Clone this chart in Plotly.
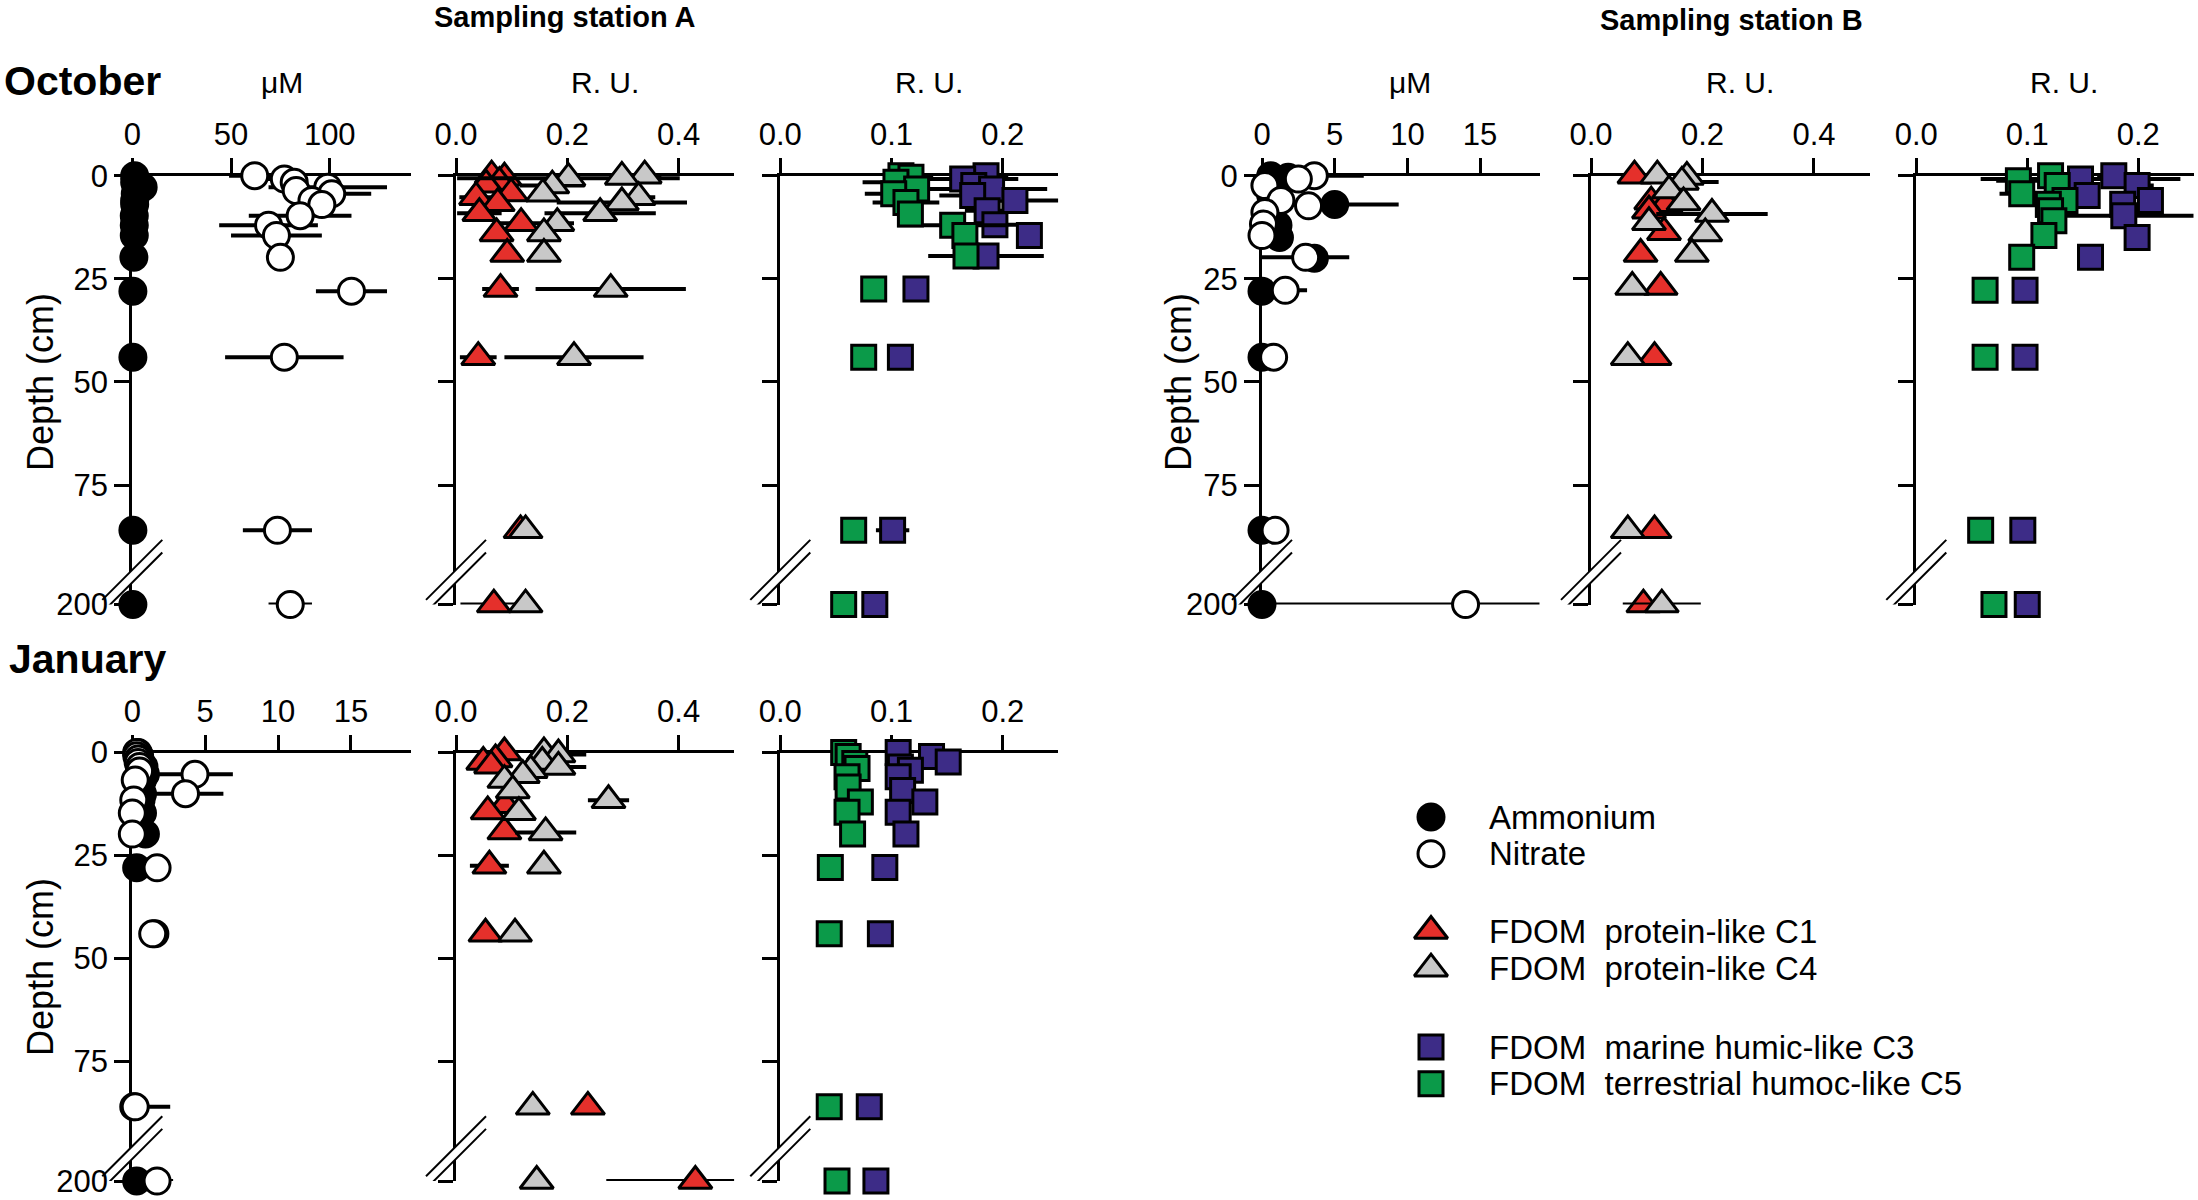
import plotly.graph_objects as go

# ======================= DATA =======================
# ---- Station A, October ----
A_OCT_NH4_DEPTH = [0, 0.8, 1.6, 2.8, 3.6, 4.4, 6, 7, 9.7, 12, 14.5, 19.8, 28, 44, 86, 200]
A_OCT_NH4 = [1.2, 1.5, 1.2, 5.5, 2.0, 1.5, 1.2, 1.2, 1.0, 1.0, 1.0, 0.8, 0.3, 0.3, 0.3, 0.3]
A_OCT_NH4_ERR = [0.5, 0.5, 0.5, 1.0, 0.5, 0.5, 0.5, 0.5, 0.5, 0.5, 0.5, 0.5, 0.3, 0.3, 0.3, 0.3]
A_OCT_NO3_DEPTH = [0, 0.8, 1.6, 2.8, 3.6, 4.4, 6, 7, 9.7, 12, 14.5, 19.8, 28, 44, 86, 200]
A_OCT_NO3 = [62, 77, 82, 99, 83, 101, 91, 96, 85, 69, 73, 75, 111, 77, 73.5, 80]
A_OCT_NO3_ERR = [13, 12, 6, 30, 6, 20, 6, 6, 26, 25, 23, 4, 18, 30, 17.5, 11]

A_OCT_C1_DEPTH = [0, 0.5, 1.6, 2.2, 4.3, 5.2, 6.7, 9.1, 11.5, 14, 19, 27.5, 44, 86, 200]
A_OCT_C1 = [0.064, 0.087, 0.078, 0.054, 0.099, 0.036, 0.075, 0.042, 0.117, 0.073, 0.092, 0.080, 0.040, 0.116, 0.068]
A_OCT_C1_ERR = [0.01, 0.01, 0.02, 0.02, 0.02, 0.03, 0.02, 0.04, 0.045, 0.02, 0.015, 0.033, 0.033, 0.01, 0.06]
A_OCT_C4_DEPTH = [0, 0.3, 0.6, 2.4, 4.4, 5.2, 6.5, 9.1, 11.5, 14, 19, 27.5, 44, 86, 200]
A_OCT_C4 = [0.339, 0.298, 0.202, 0.173, 0.156, 0.328, 0.298, 0.259, 0.182, 0.158, 0.158, 0.278, 0.212, 0.125, 0.125]
A_OCT_C4_ERR = [0.03, 0.02, 0.2, 0.058, 0.02, 0.03, 0.117, 0.1, 0.03, 0.02, 0.02, 0.135, 0.125, 0.01, 0.01]

A_OCT_C3_DEPTH = [0, 0.8, 2.4, 3.2, 4.8, 6, 8.5, 11.9, 14.5, 19.5, 27.5, 44, 86, 200]
A_OCT_C3 = [0.185, 0.164, 0.174, 0.190, 0.173, 0.211, 0.186, 0.193, 0.224, 0.185, 0.122, 0.108, 0.101, 0.085]
A_OCT_C3_ERR = [0.02, 0.05, 0.02, 0.05, 0.03, 0.045, 0.02, 0.02, 0.01, 0.052, 0.005, 0.005, 0.015, 0.005]
A_OCT_C5_DEPTH = [0, 0.4, 1.6, 3.2, 4.4, 6.5, 9.3, 12, 14.5, 19.5, 27.5, 44, 86, 200]
A_OCT_C5 = [0.1085, 0.1175, 0.104, 0.1226, 0.102, 0.113, 0.117, 0.155, 0.166, 0.167, 0.084, 0.075, 0.066, 0.057]
A_OCT_C5_ERR = [0.01, 0.02, 0.03, 0.02, 0.026, 0.03, 0.01, 0.05, 0.01, 0.01, 0.005, 0.005, 0.005, 0.005]

# ---- Station B, October ----
B_OCT_NH4_DEPTH = [0, 0.4, 2.4, 4.8, 7, 9, 12, 15, 20, 28, 44, 86, 200]
B_OCT_NH4 = [0.6, 1.8, 0.3, 0.6, 5.0, 0.5, 1.1, 1.2, 3.6, 0.0, 0.0, 0.0, 0.0]
B_OCT_NH4_ERR = [0.2, 0.3, 0.1, 0.1, 4.4, 0.1, 0.2, 0.2, 0.3, 0.1, 0.1, 0.1, 0.1]
B_OCT_NO3_DEPTH = [0, 0.8, 2.4, 6, 7.3, 8.9, 11.7, 14.5, 19.8, 27.8, 44, 86, 200]
B_OCT_NO3 = [3.6, 2.5, 0.2, 1.3, 3.2, 0.2, 0.1, 0.0, 3.0, 1.6, 0.8, 0.9, 14.0]
B_OCT_NO3_ERR = [3.4, 0.4, 0.3, 0.3, 0.4, 0.2, 0.2, 0.2, 3.0, 1.5, 0.2, 0.2, 14.0]

B_OCT_C1_DEPTH = [0, 6.3, 6.9, 8.5, 13.7, 19, 27, 44, 86, 200]
B_OCT_C1 = [0.078, 0.108, 0.134, 0.104, 0.131, 0.089, 0.125, 0.114, 0.114, 0.094]
B_OCT_C1_ERR = [0.02, 0.01, 0.01, 0.02, 0.01, 0.01, 0.01, 0.01, 0.01, 0.01]
B_OCT_C4_DEPTH = [0, 0.3, 1.5, 3.6, 6.5, 9.3, 11.3, 14, 19, 27, 44, 86, 200]
B_OCT_C4 = [0.119, 0.172, 0.163, 0.140, 0.166, 0.217, 0.104, 0.205, 0.181, 0.074, 0.066, 0.066, 0.127]
B_OCT_C4_ERR = [0.02, 0.01, 0.066, 0.02, 0.02, 0.1, 0.02, 0.01, 0.01, 0.01, 0.01, 0.01, 0.07]

B_OCT_C3_DEPTH = [0, 0.8, 2.4, 4.8, 6, 6.9, 9.7, 15, 19.8, 27.8, 44, 86, 200]
B_OCT_C3 = [0.178, 0.148, 0.199, 0.154, 0.211, 0.186, 0.187, 0.199, 0.157, 0.098, 0.098, 0.096, 0.100]
B_OCT_C3_ERR = [0.015, 0.09, 0.015, 0.01, 0.01, 0.01, 0.08, 0.01, 0.01, 0.005, 0.005, 0.005, 0.005]
B_OCT_C5_DEPTH = [0, 1.2, 2.4, 4.4, 6, 6.9, 8.5, 10.9, 14.5, 19.8, 27.8, 44, 86, 200]
B_OCT_C5 = [0.121, 0.092, 0.127, 0.095, 0.134, 0.119, 0.121, 0.124, 0.115, 0.095, 0.062, 0.062, 0.058, 0.070]
B_OCT_C5_ERR = [0.01, 0.02, 0.01, 0.02, 0.01, 0.01, 0.01, 0.01, 0.01, 0.01, 0.005, 0.005, 0.005, 0.005]

# ---- Station A, January ----
A_JAN_NH4_DEPTH = [0, 0.8, 1.6, 2.4, 3.4, 4.5, 5.3, 6.7, 10, 11.5, 14.7, 19.8, 28, 44, 86, 200]
A_JAN_NH4 = [0.4, 0.5, 0.5, 0.6, 0.8, 0.8, 0.9, 0.7, 0.7, 0.6, 0.7, 0.9, 0.3, 1.55, 0.1, 0.3]
A_JAN_NH4_ERR = [0.1, 0.1, 0.1, 0.1, 0.1, 0.1, 0.1, 0.1, 0.1, 0.1, 0.1, 0.1, 0.1, 0.1, 0.1, 0.1]
A_JAN_NO3_DEPTH = [0, 0.8, 1.6, 2.4, 3.4, 4.5, 5.3, 6.7, 10, 11.5, 14.7, 19.8, 28, 44, 86, 200]
A_JAN_NO3 = [0.3, 0.3, 0.4, 0.4, 0.5, 0.5, 4.3, 0.2, 3.65, 0.1, 0.0, 0.0, 1.7, 1.4, 0.2, 1.7]
A_JAN_NO3_ERR = [0.1, 0.1, 0.1, 0.1, 0.1, 0.1, 2.6, 0.1, 2.6, 0.1, 0.1, 0.1, 0.1, 0.1, 2.4, 1.1]

A_JAN_C1_DEPTH = [0, 1.7, 2.3, 3.2, 12.8, 14.3, 19.2, 27.5, 44, 86, 200]
A_JAN_C1 = [0.087, 0.071, 0.049, 0.063, 0.088, 0.057, 0.087, 0.060, 0.053, 0.237, 0.43]
A_JAN_C1_ERR = [0.01, 0.01, 0.01, 0.01, 0.01, 0.01, 0.01, 0.035, 0.01, 0.01, 0.16]
A_JAN_C4_DEPTH = [0, 0.5, 2.3, 3.5, 4.3, 5.5, 6.7, 9.2, 11.6, 14.5, 19.4, 27.5, 44, 86, 200]
A_JAN_C4 = [0.158, 0.184, 0.155, 0.184, 0.134, 0.120, 0.087, 0.102, 0.274, 0.113, 0.161, 0.158, 0.106, 0.138, 0.145]
A_JAN_C4_ERR = [0.01, 0.05, 0.01, 0.05, 0.01, 0.01, 0.01, 0.01, 0.037, 0.01, 0.055, 0.02, 0.01, 0.01, 0.01]

A_JAN_C3_DEPTH = [0, 1, 2.3, 3.5, 4.3, 5.9, 9.2, 12, 14.5, 19.8, 27.9, 44, 86, 200]
A_JAN_C3 = [0.106, 0.136, 0.151, 0.108, 0.117, 0.106, 0.110, 0.130, 0.106, 0.113, 0.094, 0.090, 0.080, 0.086]
A_JAN_C3_ERR = [0.005, 0.005, 0.005, 0.005, 0.005, 0.005, 0.005, 0.005, 0.005, 0.005, 0.005, 0.005, 0.005, 0.005]
A_JAN_C5_DEPTH = [0, 1, 2.7, 3.9, 5.9, 8.4, 12, 14.5, 19.8, 27.9, 44, 86, 200]
A_JAN_C5 = [0.057, 0.061, 0.067, 0.069, 0.060, 0.061, 0.072, 0.060, 0.065, 0.045, 0.044, 0.044, 0.051]
A_JAN_C5_ERR = [0.005, 0.005, 0.005, 0.005, 0.005, 0.005, 0.005, 0.005, 0.005, 0.005, 0.005, 0.005, 0.005]

# ---- axis tick labels / texts ----
DEPTH_TICKS = [0, 25, 50, 75, 200]
NUT_A_OCT_TICKS = [0, 50, 100]
NUT_LOW_TICKS = [0, 5, 10, 15]
PROT_TICKS = [0.0, 0.2, 0.4]
HUM_TICKS = [0.0, 0.1, 0.2]
LEGEND_KEYS = ["NH4", "NO3", "C1", "C4", "C3", "C5"]
LEGEND_LABELS = ["Ammonium", "Nitrate", "FDOM  protein-like C1", "FDOM  protein-like C4",
                 "FDOM  marine humic-like C3", "FDOM  terrestrial humoc-like C5"]

# ======================= LAYOUT / STYLE =======================
W, H = 2198, 1200
FONT = "Liberation Sans, Arial, Helvetica, sans-serif"
BREAK_POS = 104.0   # plotted position of the 200 cm level on the broken depth axis
BREAK_MID = 97.1    # where the break marks cross the depth axis
ROW_PX = {1: (175.7, 604.6), 2: (752.5, 1181.0)}
COL_PX = {1: (132.3, 410.7), 2: (456.0, 734.3), 3: (780.3, 1058.3),
          4: (1262.0, 1539.7), 5: (1591.0, 1869.7), 6: (1916.3, 2193.7)}

STYLE = {
    "NH4": dict(symbol="circle", color="#000000", size=26),
    "NO3": dict(symbol="circle", color="#FFFFFF", size=26),
    "C1": dict(symbol="triangle-up", color="#E5302B", size=29),
    "C4": dict(symbol="triangle-up", color="#C8C8C8", size=29),
    "C3": dict(symbol="square", color="#3D2C87", size=24),
    "C5": dict(symbol="square", color="#0B9A49", size=24),
}


def ypos(depths):
    return [d if d <= 100 else BREAK_POS for d in depths]


PANELS = [
    (1, 1, 1, [0, 141], NUT_A_OCT_TICKS, "d", True,
     [("NH4", A_OCT_NH4_DEPTH, A_OCT_NH4, A_OCT_NH4_ERR), ("NO3", A_OCT_NO3_DEPTH, A_OCT_NO3, A_OCT_NO3_ERR)]),
    (2, 1, 2, [0, 0.5], PROT_TICKS, ".1f", False,
     [("C1", A_OCT_C1_DEPTH, A_OCT_C1, A_OCT_C1_ERR), ("C4", A_OCT_C4_DEPTH, A_OCT_C4, A_OCT_C4_ERR)]),
    (3, 1, 3, [0, 0.25], HUM_TICKS, ".1f", False,
     [("C3", A_OCT_C3_DEPTH, A_OCT_C3, A_OCT_C3_ERR), ("C5", A_OCT_C5_DEPTH, A_OCT_C5, A_OCT_C5_ERR)]),
    (4, 1, 4, [0, 19.1], NUT_LOW_TICKS, "d", True,
     [("NH4", B_OCT_NH4_DEPTH, B_OCT_NH4, B_OCT_NH4_ERR), ("NO3", B_OCT_NO3_DEPTH, B_OCT_NO3, B_OCT_NO3_ERR)]),
    (5, 1, 5, [0, 0.5], PROT_TICKS, ".1f", False,
     [("C1", B_OCT_C1_DEPTH, B_OCT_C1, B_OCT_C1_ERR), ("C4", B_OCT_C4_DEPTH, B_OCT_C4, B_OCT_C4_ERR)]),
    (6, 1, 6, [0, 0.25], HUM_TICKS, ".1f", False,
     [("C3", B_OCT_C3_DEPTH, B_OCT_C3, B_OCT_C3_ERR), ("C5", B_OCT_C5_DEPTH, B_OCT_C5, B_OCT_C5_ERR)]),
    (7, 2, 1, [0, 19.1], NUT_LOW_TICKS, "d", True,
     [("NH4", A_JAN_NH4_DEPTH, A_JAN_NH4, A_JAN_NH4_ERR), ("NO3", A_JAN_NO3_DEPTH, A_JAN_NO3, A_JAN_NO3_ERR)]),
    (8, 2, 2, [0, 0.5], PROT_TICKS, ".1f", False,
     [("C1", A_JAN_C1_DEPTH, A_JAN_C1, A_JAN_C1_ERR), ("C4", A_JAN_C4_DEPTH, A_JAN_C4, A_JAN_C4_ERR)]),
    (9, 2, 3, [0, 0.25], HUM_TICKS, ".1f", False,
     [("C3", A_JAN_C3_DEPTH, A_JAN_C3, A_JAN_C3_ERR), ("C5", A_JAN_C5_DEPTH, A_JAN_C5, A_JAN_C5_ERR)]),
]

fig = go.Figure()
layout = dict(width=W, height=H, autosize=False,
              margin=dict(l=0, r=0, t=0, b=0, pad=0, autoexpand=False),
              paper_bgcolor="white", plot_bgcolor="rgba(0,0,0,0)",
              font=dict(family=FONT, color="black", size=30), showlegend=False)
shapes = []
annotations = []

for n, row, col, xr, xticks, tfmt, ylab, series in PANELS:
    sfx = "" if n == 1 else str(n)
    x0, x1 = COL_PX[col]
    y0, y1 = ROW_PX[row]
    layout["xaxis" + sfx] = dict(
        domain=[x0 / W, x1 / W], range=xr, tickvals=xticks, tickformat=tfmt,
        side="top", anchor="y" + sfx, showline=True, linewidth=3, linecolor="black",
        ticks="outside", ticklen=15, tickwidth=3, tickcolor="black", automargin=False,
        tickfont=dict(size=31, family=FONT), showgrid=False, zeroline=False,
        layer="below traces", fixedrange=True)
    layout["yaxis" + sfx] = dict(
        domain=[1 - y1 / H, 1 - y0 / H], range=[BREAK_POS, 0],
        tickvals=ypos(DEPTH_TICKS), ticktext=[str(t) for t in DEPTH_TICKS],
        showticklabels=ylab, anchor="x" + sfx, showline=True, linewidth=3,
        linecolor="black", ticks="outside", ticklen=15, tickwidth=3, tickcolor="black",
        automargin=False, tickfont=dict(size=31, family=FONT), showgrid=False,
        zeroline=False, layer="below traces", fixedrange=True)

    for key, dep, val, err in series:
        st = STYLE[key]
        plus = [min(e, xr[1] - v) for v, e in zip(val, err)]
        minus = [min(e, v - xr[0]) for v, e in zip(val, err)]
        fig.add_trace(go.Scatter(
            x=val, y=ypos(dep), mode="markers", name=key,
            xaxis="x" + sfx, yaxis="y" + sfx, cliponaxis=False,
            marker=dict(symbol=st["symbol"], size=st["size"], color=st["color"],
                        line=dict(color="black", width=3)),
            error_x=dict(type="data", symmetric=False, array=plus, arrayminus=minus,
                         color="black", thickness=4, width=0),
            hoverinfo="x+y"))

    # axis break marks (//) across the depth axis
    g = 6.3
    shapes.append(dict(type="path", xref="x" + sfx + " domain", yref="y" + sfx,
                       xsizemode="pixel", ysizemode="pixel", xanchor=0, yanchor=BREAK_MID,
                       path=f"M-7,{-7 + g} L7,{7 + g} L7,{7 - g} L-7,{-7 - g} Z",
                       fillcolor="white", line=dict(width=0), layer="above"))
    for off in (g, -g):
        shapes.append(dict(type="line", xref="x" + sfx + " domain", yref="y" + sfx,
                           xsizemode="pixel", ysizemode="pixel", xanchor=0, yanchor=BREAK_MID,
                           x0=-30, y0=-30 + off, x1=30, y1=30 + off,
                           line=dict(color="black", width=2), layer="above"))

# ---------------- text ----------------
def ann(text, xpx, ypx, size, bold=False, xanchor="center", angle=0):
    annotations.append(dict(text=text, x=xpx / W, y=1 - ypx / H, xref="paper", yref="paper",
                            showarrow=False, xanchor=xanchor, yanchor="middle", textangle=angle,
                            font=dict(size=size, family=FONT, color="black",
                                      weight="bold" if bold else "normal")))

ann("Sampling station A", 565, 17, 29, bold=True)
ann("Sampling station B", 1731, 20, 29, bold=True)
ann("October", 2, 81, 41, bold=True, xanchor="left")
ann("January", 7, 659, 41, bold=True, xanchor="left")
UNIT_TEXT = ["μM", "R. U.", "R. U.", "μM", "R. U.", "R. U."]
UNIT_XPX = [282, 605, 929, 1410, 1740, 2064]
for t, xp in zip(UNIT_TEXT, UNIT_XPX):
    ann(t, xp, 82, 30)
ann("Depth (cm)", 40, 382, 36, angle=-90)
ann("Depth (cm)", 40, 967, 36, angle=-90)
ann("Depth (cm)", 1178, 382, 36, angle=-90)

# ---------------- legend (keys drawn on a hidden full-page axis) ----------------
LEGEND_ROW_PX = [817, 853.7, 931, 968.7, 1047, 1083.7]
LEGEND_KEY_XPX = 1431
LEGEND_TEXT_XPX = 1487
layout["xaxis10"] = dict(domain=[0, 1], range=[0, W], visible=False, fixedrange=True,
                         anchor="y10", automargin=False)
layout["yaxis10"] = dict(domain=[0, 1], range=[H, 0], visible=False, fixedrange=True,
                         anchor="x10", automargin=False)
for key, lab, ry in zip(LEGEND_KEYS, LEGEND_LABELS, LEGEND_ROW_PX):
    st = STYLE[key]
    fig.add_trace(go.Scatter(
        x=[LEGEND_KEY_XPX], y=[ry], mode="markers", xaxis="x10", yaxis="y10",
        cliponaxis=False, hoverinfo="skip",
        marker=dict(symbol=st["symbol"], size=st["size"], color=st["color"],
                    line=dict(color="black", width=3))))
    ann(lab, LEGEND_TEXT_XPX, ry, 33, xanchor="left")

layout["shapes"] = shapes
layout["annotations"] = annotations
fig.update_layout(**layout)
fig.write_html("out.html", config={"responsive": False, "displayModeBar": False},
               post_script="document.body.style.margin='0px';document.body.style.overflow='hidden';")
